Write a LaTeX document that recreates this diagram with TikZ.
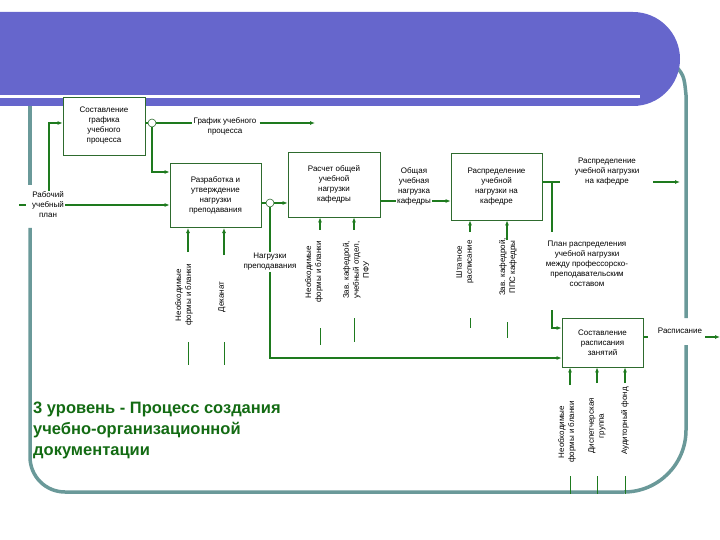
\documentclass[tikz,border=0pt]{standalone}
\usepackage{fontspec}
\setmainfont{Liberation Sans}
\usetikzlibrary{arrows.meta}
\definecolor{gl}{HTML}{1E7A1E}
\definecolor{bx}{HTML}{2E6B2E}
\definecolor{ban}{HTML}{6666CC}
\definecolor{frm}{HTML}{6A9999}
\definecolor{ttl}{HTML}{136B13}
\begin{document}
\begin{tikzpicture}[x=1pt,y=-1pt,
  box/.style={draw=bx,line width=0.7pt,fill=white,align=center,font=\fontsize{8}{10}\selectfont,inner sep=0pt},
  lbl/.style={align=center,font=\fontsize{8}{10}\selectfont,inner sep=1pt},
  vlbl/.style={lbl,rotate=90},
  ln/.style={draw=gl,line width=1.1pt},
  ar/.style={ln,-{Latex[length=5pt,width=4pt]}},
  circ/.style={circle,draw=bx,fill=white,line width=0.6pt,minimum size=8pt,inner sep=0pt}]
\useasboundingbox (0,0) rectangle (720,540);
% frame
\draw[frm,line width=3.5pt] (672,62) .. controls (684,75) .. (686,95) -- (686,318);
\draw[frm,line width=3.5pt] (686,345) -- (686,430) arc[start angle=0,end angle=90,radius=62] -- (65,492) arc[start angle=90,end angle=180,radius=35] -- (30,228);
\draw[frm,line width=3.5pt] (30,185) -- (30,106);
% banner
\fill[ban,rounded corners=47pt] (-60,12) rectangle (680,106);
\fill[white] (0,95) rectangle (640,98);
% title
\node[anchor=north west,align=left,text=ttl,font=\fontsize{16.5}{21}\selectfont\bfseries,inner sep=0pt] (ttl) at (33,402) {3 уровень - Процесс создания\\учебно-организационной\\документации};
% boxes
\node[box,minimum width=82pt,minimum height=58pt] (A) at (104,126) {Составление\\графика\\учебного\\процесса};
\node[box,minimum width=91pt,minimum height=64pt] (B) at (215.5,195) {Разработка и\\утверждение\\нагрузки\\преподавания};
\node[box,minimum width=92pt,minimum height=65pt] (C) at (334,184.5) {Расчет общей\\учебной\\нагрузки\\кафедры};
\node[box,minimum width=91pt,minimum height=67pt] (D) at (496.5,186.5) {Распределение\\учебной\\нагрузки на\\кафедре};
\node[box,minimum width=81pt,minimum height=49pt] (E) at (602.5,342.5) {Составление\\расписания\\занятий};
% A output
\node[circ] (c1) at (152,123) {};
\node[lbl] (gup) at (225,126) {График учебного\\процесса};
\coordinate (gupe) at (315,123);
\draw[ln] (A.east |- c1) -- (c1) -- (gup.west |- c1);
\draw[ar] (gup.east |- c1) ++(2,0) coordinate (g1) (g1) -- (gupe);
\coordinate (c1d) at (152,172);
\draw[ar] (c1) -- (c1d) -- (B.west |- c1d);
% Рабочий учебный план
\node[lbl] (rup) at (48,205) {Рабочий\\учебный\\план};
\coordinate (rupl) at (19,205);
\draw[ln] (rupl) -- (26,205);
\draw[ar] (rup.east) -- (B.west |- rup.east);
\coordinate (rupu) at (49,123);
\draw[ar] (rup.north -| rupu) -- (rupu) -- (A.west |- rupu);
% B mechanisms
\node[vlbl] (bn1) at (184,295) {Необходимые\\формы и бланки};
\node[vlbl] (bn2) at (222,297) {Деканат};
\draw[ar] (188,252) -- (188,228);
\draw[ar] (224,255) -- (224,228);
\draw[ln,line width=0.6pt] (188,342) -- (188,365) (224,342) -- (224,365);
% B -> C
\node[circ] (c2) at (270,203) {};
\draw[ln] (B.east |- c2) -- (c2);
\draw[ar] (c2) -- (C.west |- c2);
\node[lbl] (np) at (270,262) {Нагрузки\\преподавания};
\draw[ln] (c2) -- (np.north -| c2);
\coordinate (npd) at (270,358);
\draw[ar] (np.south -| c2) -- (npd) -- (E.west |- npd);
% C mechanisms
\node[vlbl] (cn1) at (314,272) {Необходимые\\формы и бланки};
\node[vlbl] (cn2) at (356,270) {Зав. кафедрой,\\учебный отдел,\\ПФУ};
\draw[ar] (320,230) -- (C.south -| 320,0);
\draw[ar] (354,230) -- (C.south -| 354,0);
\draw[ln,line width=0.6pt] (320,328) -- (320,345) (354,318) -- (354,342);
% C -> D
\node[lbl] (ou) at (414,186) {Общая\\учебная\\нагрузка\\кафедры};
\draw[ln] (C.east |- 0,201) -- (ou.west |- 0,201);
\draw[ar] (ou.east |- 0,201) -- (D.west |- 0,201);
% D mechanisms
\node[vlbl] (dn1) at (465,262) {Штатное\\расписание};
\node[vlbl] (dn2) at (508,267) {Зав. кафедрой,\\ППС кафедры};
\draw[ar] (470,232) -- (D.south -| 470,0);
\draw[ar] (507,240) -- (D.south -| 507,0);
\draw[ln,line width=0.6pt] (470,318) -- (470,328) (507,322) -- (507,338);
% D output
\node[lbl] (rn) at (607,172) {Распределение\\учебной нагрузки\\на кафедре};
\coordinate (rne) at (680,182);
\draw[ln] (D.east |- 0,182) -- (560,182);
\draw[ar] (653,182) -- (rne);
\node[lbl] (pl) at (587,264) {План распределения\\учебной нагрузки\\между профессорско-\\преподавательским\\составом};
\draw[ln] (552,182) -- (552,232);
\coordinate (pld) at (552,328);
\draw[ar] (552,310) -- (pld) -- (E.west |- pld);
% E output
\node[lbl] (ras) at (680,331) {Расписание};
\coordinate (rase) at (720,337);
\draw[ln] (E.east |- 0,337) -- (648,337);
\draw[ar] (705,337) -- (rase);
% E mechanisms
\node[vlbl] (en1) at (567,432) {Необходимые\\формы и бланки};
\node[vlbl] (en2) at (597,426) {Диспетчерская\\группа};
\node[vlbl] (en3) at (625,421) {Аудиторный фонд};
\draw[ar] (570,385) -- (E.south -| 570,0);
\draw[ar] (597,383) -- (E.south -| 597,0);
\draw[ar] (625,383) -- (E.south -| 625,0);
\draw[ln,line width=0.6pt] (570,476) -- (570,494) (597,476) -- (597,494) (625,476) -- (625,494);
\end{tikzpicture}
\end{document}
